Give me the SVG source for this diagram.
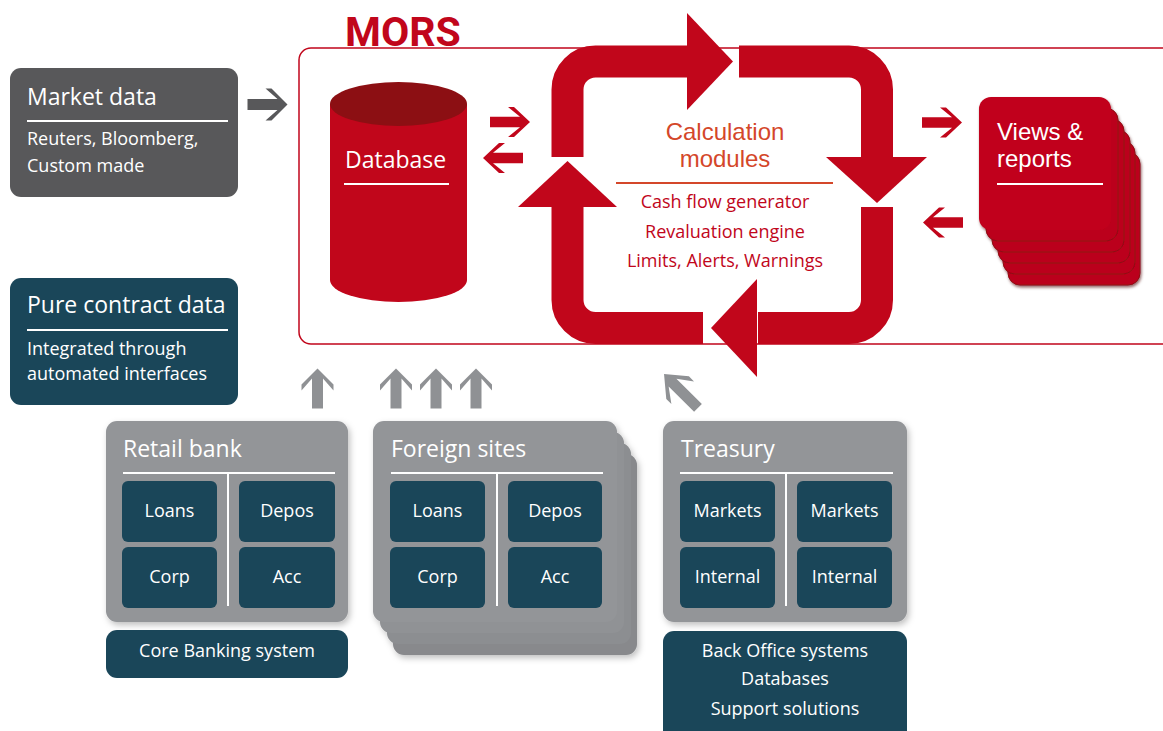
<svg xmlns="http://www.w3.org/2000/svg" width="1163" height="731" viewBox="0 0 1163 731">
  <defs>
    <style>
      text { font-family: "Open Sans", "Liberation Sans", sans-serif; }
      .w { fill: #ffffff; }
      .t24 { font-size: 23px; }
      .t18 { font-size: 18px; }
      .tt { font-family: "Liberation Sans", Arial, sans-serif; font-size: 24px; }
      .c { text-anchor: middle; }
      .ul { stroke: #ffffff; stroke-width: 2; }
      .teal { fill: #1a4659; }
      .gbox { fill: #939598; }
      .red { fill: #c1061b; }
      .card { fill: #bb061a; stroke: #8e0912; stroke-width: 1; }
      .loop { fill: none; stroke: #c1061b; stroke-width: 32; stroke-linecap: butt; }
      .garrow { fill: #8f9194; }
    </style>
    <path id="arr" d="M-20,-5.5 H10 L-2,-16 H4 L20,0 L4,16 H-2 L10,5.5 H-20 Z"/>
    <filter id="sh" x="-10%" y="-10%" width="130%" height="130%">
      <feDropShadow dx="2" dy="3" stdDeviation="3" flood-color="#000" flood-opacity="0.25"/>
    </filter>
    <filter id="shr" x="-10%" y="-10%" width="130%" height="130%">
      <feDropShadow dx="1" dy="2" stdDeviation="1.5" flood-color="#4a0006" flood-opacity="0.6"/>
    </filter>
  </defs>

  <!-- MORS frame -->
  <g id="mors">
    <rect x="299" y="48" width="900" height="296" rx="12" fill="none" stroke="#c1061b" stroke-width="1.5"/>
    <text x="345" y="46" font-weight="bold" font-size="41" fill="#c1061b" style="font-family: Roboto, 'Liberation Sans', sans-serif">MORS</text>
  </g>

  <!-- Market data -->
  <g id="market-data">
    <rect x="10" y="68" width="228" height="129" rx="11" fill="#58585a"/>
    <text x="27" y="105" class="w t24">Market data</text>
    <line x1="27" y1="121" x2="228" y2="121" class="ul"/>
    <text x="27" y="145" class="w t18">Reuters, Bloomberg,</text>
    <text x="27" y="172" class="w t18">Custom made</text>
  </g>

  <!-- Pure contract data -->
  <g id="pure-contract">
    <rect x="10" y="278" width="228" height="127" rx="11" class="teal"/>
    <text x="27" y="313" class="w t24">Pure contract data</text>
    <line x1="27" y1="330" x2="228" y2="330" class="ul"/>
    <text x="27" y="355" class="w t18">Integrated through</text>
    <text x="27" y="380" class="w t18">automated interfaces</text>
  </g>

  <!-- Database -->
  <g id="database">
    <path d="M330,104 V280 A68.5,22 0 0 0 467,280 V104 Z" class="red"/>
    <ellipse cx="398.5" cy="104" rx="68.5" ry="22" fill="#8c0f13"/>
    <text x="345" y="168" class="w t24">Database</text>
    <line x1="344" y1="184" x2="449" y2="184" class="ul"/>
  </g>

  <!-- Calculation modules cycle -->
  <g id="calculation">
    <path class="loop" d="M567.5,157 V89.5 A28,28 0 0 1 595.5,61.5 H688"/>
    <polygon class="red" points="687,13 733,61.5 687,110"/>
    <path class="loop" d="M739,61.5 H849 A28,28 0 0 1 877,89.5 V158"/>
    <polygon class="red" points="826,157 927,157 877,203"/>
    <path class="loop" d="M877,207 V300 A28,28 0 0 1 849,328 H758"/>
    <polygon class="red" points="757,279 757,377 711,328"/>
    <path class="loop" d="M703,328 H595.5 A28,28 0 0 1 567.5,300 V206"/>
    <polygon class="red" points="518,207 617,207 567.5,161"/>
    <text x="725" y="140" class="c tt" fill="#d4472a">Calculation</text>
    <text x="725" y="167" class="c tt" fill="#d4472a">modules</text>
    <line x1="616" y1="183" x2="833" y2="183" stroke="#d4472a" stroke-width="2"/>
    <text x="725" y="208" class="c t18" fill="#c1061b">Cash flow generator</text>
    <text x="725" y="238" class="c t18" fill="#c1061b">Revaluation engine</text>
    <text x="725" y="267" class="c t18" fill="#c1061b">Limits, Alerts, Warnings</text>
  </g>

  <!-- Views & reports -->
  <g id="views-reports">
    <g filter="url(#shr)">
      <rect x="1008" y="152" width="132" height="133" rx="12" class="card"/>
      <rect x="1003" y="141" width="132" height="133" rx="12" class="card"/>
      <rect x="998" y="130" width="132" height="133" rx="12" class="card"/>
      <rect x="992" y="119" width="132" height="133" rx="12" class="card"/>
      <rect x="986" y="108" width="132" height="133" rx="12" class="card"/>
      <rect x="979" y="97" width="132" height="133" rx="12" class="red"/>
    </g>
    <text x="997" y="140" class="w tt">Views &amp;</text>
    <text x="997" y="167" class="w tt">reports</text>
    <line x1="997" y1="184" x2="1103" y2="184" class="ul"/>
  </g>

  <!-- Retail bank -->
  <g id="retail-bank">
    <rect x="106" y="421" width="242" height="201" rx="11" class="gbox" filter="url(#sh)"/>
    <text x="123" y="457" class="w t24">Retail bank</text>
    <line x1="123" y1="473" x2="335" y2="473" class="ul"/>
    <line x1="228" y1="473" x2="228" y2="606" class="ul"/>
    <rect x="122" y="481" width="95" height="61" rx="6" class="teal"/>
    <rect x="239" y="481" width="96" height="61" rx="6" class="teal"/>
    <rect x="122" y="547" width="95" height="61" rx="6" class="teal"/>
    <rect x="239" y="547" width="96" height="61" rx="6" class="teal"/>
    <text x="169.5" y="517" class="w t18 c">Loans</text>
    <text x="287" y="517" class="w t18 c">Depos</text>
    <text x="169.5" y="583" class="w t18 c">Corp</text>
    <text x="287" y="583" class="w t18 c">Acc</text>
  </g>
  <g id="core-banking">
    <rect x="106" y="630" width="242" height="48" rx="11" class="teal"/>
    <text x="227" y="657" class="w t18 c">Core Banking system</text>
  </g>

  <!-- Foreign sites -->
  <g id="foreign-sites">
    <g filter="url(#sh)">
      <rect x="393" y="454" width="244" height="201" rx="11" fill="#88898c"/>
      <rect x="387" y="443" width="244" height="201" rx="11" fill="#8c8e91"/>
      <rect x="380" y="432" width="244" height="201" rx="11" fill="#909295"/>
      <rect x="373" y="421" width="244" height="201" rx="11" class="gbox"/>
    </g>
    <text x="391" y="457" class="w t24">Foreign sites</text>
    <line x1="391" y1="473" x2="603" y2="473" class="ul"/>
    <line x1="497" y1="473" x2="497" y2="606" class="ul"/>
    <rect x="390" y="481" width="95" height="61" rx="6" class="teal"/>
    <rect x="508" y="481" width="94" height="61" rx="6" class="teal"/>
    <rect x="390" y="547" width="95" height="61" rx="6" class="teal"/>
    <rect x="508" y="547" width="94" height="61" rx="6" class="teal"/>
    <text x="437.5" y="517" class="w t18 c">Loans</text>
    <text x="555" y="517" class="w t18 c">Depos</text>
    <text x="437.5" y="583" class="w t18 c">Corp</text>
    <text x="555" y="583" class="w t18 c">Acc</text>
  </g>

  <!-- Treasury -->
  <g id="treasury">
    <rect x="663" y="421" width="244" height="201" rx="11" class="gbox" filter="url(#sh)"/>
    <text x="681" y="457" class="w t24">Treasury</text>
    <line x1="680" y1="473" x2="893" y2="473" class="ul"/>
    <line x1="786" y1="473" x2="786" y2="606" class="ul"/>
    <rect x="680" y="481" width="95" height="61" rx="6" class="teal"/>
    <rect x="797" y="481" width="95" height="61" rx="6" class="teal"/>
    <rect x="680" y="547" width="95" height="61" rx="6" class="teal"/>
    <rect x="797" y="547" width="95" height="61" rx="6" class="teal"/>
    <text x="727.5" y="517" class="w t18 c">Markets</text>
    <text x="844.5" y="517" class="w t18 c">Markets</text>
    <text x="727.5" y="583" class="w t18 c">Internal</text>
    <text x="844.5" y="583" class="w t18 c">Internal</text>
  </g>
  <g id="back-office">
    <rect x="663" y="631" width="244" height="115" rx="11" class="teal"/>
    <text x="785" y="657" class="w t18 c">Back Office systems</text>
    <text x="785" y="685" class="w t18 c">Databases</text>
    <text x="785" y="715" class="w t18 c">Support solutions</text>
  </g>

  <!-- Connectors -->
  <g id="connectors">
    <use href="#arr" transform="translate(267.5,104.5)" fill="#58585a"/>
    <use href="#arr" transform="translate(510,122) scale(1,0.94)" class="red"/>
    <use href="#arr" transform="translate(503,158) rotate(180) scale(1,0.94)" class="red"/>
    <use href="#arr" transform="translate(942,122.5) scale(1,0.94)" class="red"/>
    <use href="#arr" transform="translate(943,222.5) rotate(180) scale(1,0.94)" class="red"/>
    <use href="#arr" transform="translate(317.5,388.5) rotate(-90)" class="garrow"/>
    <use href="#arr" transform="translate(396,388.5) rotate(-90)" class="garrow"/>
    <use href="#arr" transform="translate(436,388.5) rotate(-90)" class="garrow"/>
    <use href="#arr" transform="translate(476,388.5) rotate(-90)" class="garrow"/>
    <use href="#arr" transform="translate(681,391) rotate(-135) scale(1.2,1)" class="garrow"/>
  </g>
</svg>
